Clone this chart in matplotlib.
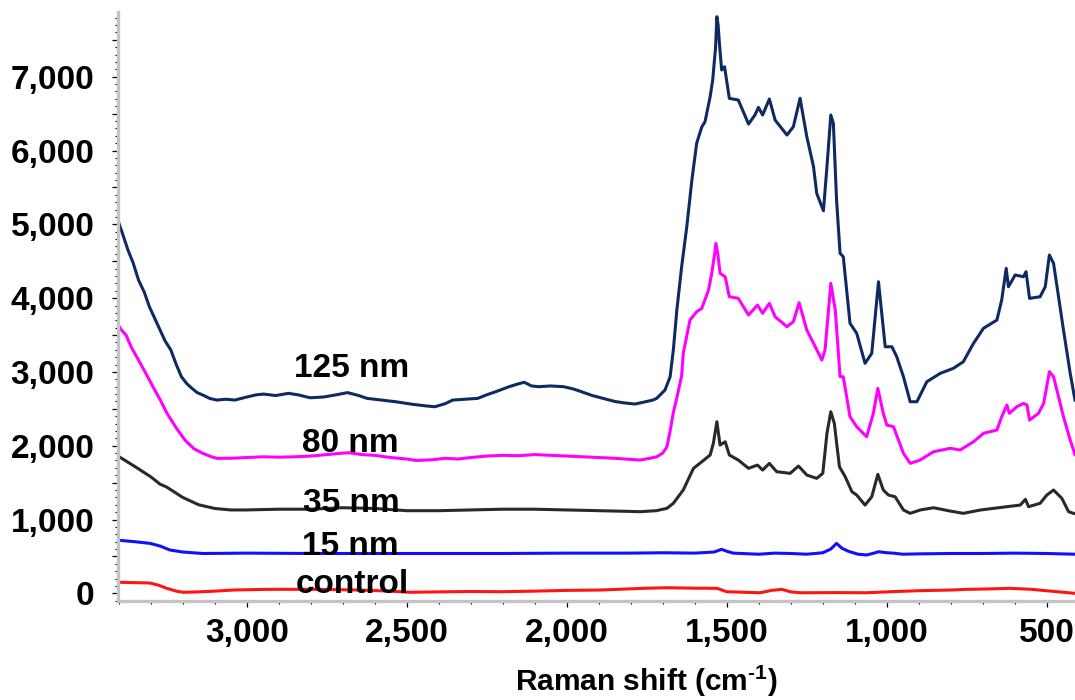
import matplotlib
matplotlib.use("Agg")
import matplotlib.pyplot as plt
from matplotlib.ticker import MultipleLocator, FuncFormatter

# ---------------- data (Raman shift cm^-1, intensity) ----------------
x_125 = [3402, 3390, 3371, 3355, 3338, 3320, 3304, 3290, 3271, 3255, 3237, 3220, 3204, 3187,
         3171, 3155, 3137, 3115, 3093, 3065, 3037, 3000, 2970, 2947, 2910, 2869, 2840, 2802,
         2760, 2720, 2685, 2650, 2624, 2580, 2534, 2480, 2440, 2412, 2380, 2356, 2320, 2278,
         2250, 2222, 2180, 2150, 2133, 2110, 2088, 2050, 2010, 1980, 1954, 1920, 1887, 1850,
         1820, 1787, 1760, 1731, 1719, 1693, 1677, 1667, 1656, 1641, 1625, 1609, 1594, 1578,
         1568, 1552, 1544, 1535, 1531, 1527, 1523, 1516, 1507, 1492, 1464, 1432, 1412, 1401,
         1388, 1367, 1349, 1312, 1292, 1271, 1250, 1229, 1219, 1198, 1187, 1175, 1167, 1157,
         1146, 1136, 1115, 1094, 1068, 1047, 1026, 1005, 984, 969, 948, 927, 906, 875, 833,
         792, 761, 729, 698, 656, 641, 627, 620, 599, 573, 565, 554, 521, 505, 492, 479, 448,
         427, 412]
y_125 = [5050, 4900, 4652, 4480, 4245, 4080, 3883, 3750, 3568, 3420, 3297, 3100, 2935, 2840,
         2778, 2720, 2687, 2640, 2619, 2630, 2619, 2660, 2690, 2700, 2680, 2710, 2690, 2650,
         2660, 2690, 2720, 2680, 2642, 2620, 2596, 2560, 2540, 2528, 2570, 2619, 2630, 2642,
         2690, 2732, 2800, 2840, 2860, 2810, 2800, 2810, 2800, 2770, 2732, 2680, 2642, 2600,
         2580, 2565, 2590, 2619, 2642, 2755, 2935, 3297, 3839, 4426, 4967, 5600, 6100, 6320,
         6390, 6729, 6955, 7400, 7813, 7700, 7452, 7091, 7135, 6707, 6684, 6359, 6481, 6585,
         6481, 6698, 6413, 6210, 6322, 6707, 6187, 5781, 5420, 5184, 5781, 6481, 6369, 5329,
         4607, 4561, 3659, 3523, 3117, 3252, 4222, 3341, 3341, 3206, 2935, 2596, 2596, 2867, 2981,
         3049, 3138, 3388, 3591, 3703, 3974, 4404, 4154, 4313, 4290, 4358, 3997, 4019, 4154, 4584,
         4471, 3568, 2981, 2619]

x_80 = [3402, 3390, 3377, 3360, 3338, 3315, 3293, 3270, 3249, 3220, 3193, 3165, 3137, 3110,
        3093, 3050, 3000, 2950, 2900, 2850, 2800, 2750, 2700, 2680, 2640, 2600, 2550, 2500,
        2470, 2420, 2380, 2340, 2300, 2250, 2200, 2150, 2100, 2050, 2000, 1950, 1900, 1850,
        1800, 1771, 1740, 1719, 1700, 1687, 1677, 1667, 1656, 1641, 1636, 1615, 1594, 1578,
        1557, 1547, 1538, 1534, 1528, 1521, 1505, 1492, 1464, 1432, 1404, 1388, 1367, 1349,
        1312, 1292, 1274, 1250, 1229, 1203, 1193, 1175, 1161, 1146, 1136, 1115, 1094, 1063,
        1042, 1028, 1011, 1000, 979, 948, 927, 896, 854, 802, 771, 729, 698, 656, 641, 625,
        617, 594, 573, 562, 554, 526, 510, 492, 479, 448, 427, 412]
y_80 = [3640, 3560, 3500, 3330, 3161, 2980, 2800, 2620, 2439, 2240, 2077, 1960, 1897, 1850,
        1829, 1830, 1840, 1850, 1845, 1850, 1860, 1880, 1900, 1905, 1880, 1870, 1840, 1820,
        1800, 1810, 1830, 1820, 1840, 1860, 1870, 1865, 1880, 1870, 1860, 1850, 1840, 1830,
        1815, 1806, 1830, 1851, 1900, 1986, 2200, 2450, 2650, 2950, 3252, 3703, 3816, 3862,
        4110, 4336, 4600, 4743, 4600, 4336, 4290, 4019, 3997, 3771, 3906, 3794, 3929, 3748,
        3613, 3680, 3938, 3568, 3388, 3161, 3297, 4200, 3839, 2935, 2935, 2393, 2257, 2122,
        2439, 2778, 2439, 2280, 2257, 1897, 1761, 1806, 1919, 1965, 1942, 2054, 2168, 2213, 2393, 2551,
        2439, 2528, 2574, 2551, 2348, 2439, 2574, 3003, 2935, 2393, 2077, 1880]

x_35 = [3402, 3350, 3300, 3271, 3250, 3200, 3150, 3100, 3050, 3000, 2900, 2800, 2700, 2600,
        2500, 2400, 2300, 2200, 2100, 2000, 1900, 1800, 1771, 1720, 1687, 1667, 1636, 1604,
        1578, 1552, 1542, 1531, 1521, 1505, 1492, 1464, 1432, 1404, 1388, 1367, 1344, 1302,
        1276, 1250, 1219, 1200, 1187, 1175, 1164, 1148, 1130, 1109, 1094, 1068, 1047, 1028,
        1011, 995, 974, 948, 927, 896, 854, 802, 761, 708, 625, 583, 567, 557, 521, 500, 479,
        453, 432, 417, 412]
y_35 = [1860, 1720, 1580, 1480, 1440, 1300, 1200, 1150, 1130, 1130, 1140, 1140, 1160, 1150,
        1120, 1120, 1130, 1140, 1140, 1130, 1120, 1110, 1106, 1120, 1152, 1220, 1400, 1694,
        1783, 1874, 2032, 2325, 2009, 2054, 1874, 1806, 1694, 1738, 1670, 1761, 1648, 1626,
        1725, 1603, 1558, 1626, 2168, 2461, 2303, 1715, 1580, 1377, 1332, 1196, 1309, 1612,
        1400, 1332, 1309, 1129, 1084, 1129, 1160, 1115, 1084, 1129, 1174, 1196, 1274, 1174,
        1220, 1332, 1400, 1287, 1106, 1084, 1080]

x_15 = [3402, 3350, 3302, 3270, 3240, 3200, 3137, 3000, 2800, 2500, 2200, 2000, 1800, 1700,
        1600, 1540, 1516, 1500, 1480, 1400, 1350, 1300, 1250, 1200, 1175, 1157, 1140, 1120,
        1090, 1063, 1040, 1026, 1000, 980, 950, 900, 800, 700, 600, 500, 412]
y_15 = [720, 700, 677, 640, 587, 560, 540, 545, 540, 540, 540, 545, 545, 550,
        545, 560, 596, 570, 545, 530, 545, 540, 530, 550, 600, 677, 610, 570,
        530, 520, 545, 564, 550, 545, 530, 535, 540, 540, 545, 540, 530]

x_ctrl = [3402, 3350, 3302, 3275, 3250, 3220, 3198, 3150, 3100, 3042, 2937, 2800, 2650, 2550,
          2490, 2400, 2300, 2208, 2100, 2000, 1896, 1761, 1687, 1600, 1531, 1500, 1450, 1396,
          1360, 1328, 1300, 1271, 1150, 1062, 1000, 906, 800, 750, 680, 615, 550, 500, 450, 412]
y_ctrl = [150, 145, 140, 110, 68, 30, 14, 20, 30, 45, 54, 55, 45, 30,
          14, 20, 25, 22, 30, 40, 45, 68, 76, 70, 68, 22, 15, 8,
          40, 54, 20, 8, 10, 8, 20, 35, 45, 54, 60, 68, 55, 35, 15, 0]

series_names = ["125 nm", "80 nm", "35 nm", "15 nm", "control"]
series_colors = ["#0f2a62", "#ff00ff", "#2a2a24", "#1010ff", "#ff1414"]
label_x = [2671, 2676, 2674, 2677, 2671]
label_y = [2931, 1915, 1102, 519, 4]

x_ticks = [3000, 2500, 2000, 1500, 1000, 500]

# ---------------- plot ----------------
FAM = ['Liberation Sans', 'DejaVu Sans']
plt.rcParams['font.family'] = FAM
plt.rcParams['font.weight'] = 'bold'
plt.rcParams['mathtext.fontset'] = 'custom'
plt.rcParams['mathtext.rm'] = 'Liberation Sans:bold'
plt.rcParams['mathtext.it'] = 'Liberation Sans:bold'
plt.rcParams['mathtext.bf'] = 'Liberation Sans:bold'

fig = plt.figure(figsize=(10.75, 7.0), dpi=100)
ax = fig.add_axes([0.1098, 0.1414, 0.8902, 0.8419])

xs = [x_125, x_80, x_35, x_15, x_ctrl]
ys = [y_125, y_80, y_35, y_15, y_ctrl]
for xv, yv, c in zip(xs, ys, series_colors):
    ax.plot(xv, yv, color=c, lw=2.2, solid_joinstyle='round')

for name, lx, ly in zip(series_names, label_x, label_y):
    ax.text(lx, ly, name, ha='center', va='baseline', fontsize=24, fontweight='bold', color='black')

ax.set_xlim(3402, 412)
ax.set_ylim(-104, 7881)

for s in ['top', 'right']:
    ax.spines[s].set_visible(False)
for s in ['left', 'bottom']:
    ax.spines[s].set_color('#c4c4c4')
    ax.spines[s].set_linewidth(2.4)

ax.set_xticks(x_ticks)
ax.xaxis.set_minor_locator(MultipleLocator(100))
ax.yaxis.set_major_locator(MultipleLocator(500))
ax.yaxis.set_minor_locator(MultipleLocator(100))
ax.xaxis.set_major_formatter(FuncFormatter(lambda v, p: f"{int(v):,}"))
ax.yaxis.set_major_formatter(FuncFormatter(lambda v, p: f"{int(v):,}" if int(v) % 1000 == 0 else ""))

ax.tick_params(axis='both', which='major', direction='out', length=4, width=0.9, color='black',
               labelsize=24)
ax.tick_params(axis='both', which='minor', direction='out', length=2.5, width=0.8, color='black')
ax.tick_params(axis='x', which='major', pad=8)
ax.tick_params(axis='y', which='major', pad=13)
for lab in ax.get_xticklabels() + ax.get_yticklabels():
    lab.set_fontweight('bold')

ax.set_xlabel(r"Raman shift (cm$^{\text{-1}}$)", fontsize=21.5, fontweight='bold')
ax.xaxis.set_label_coords(0.552, -0.106)

fig.savefig("out.png", dpi=100)
